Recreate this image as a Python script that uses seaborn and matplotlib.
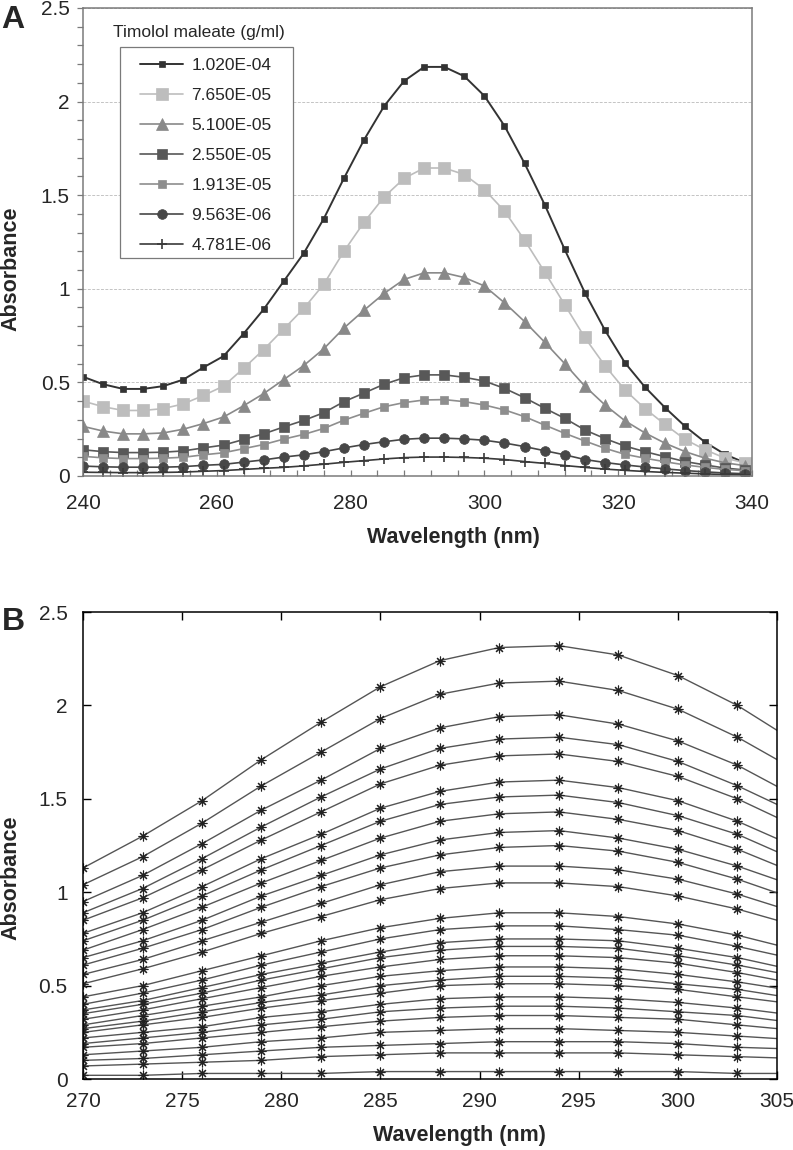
import matplotlib
matplotlib.use("Agg")
import matplotlib.pyplot as plt
from matplotlib.patches import Rectangle
from matplotlib.ticker import MultipleLocator, FuncFormatter
import seaborn as sns

# ---- Panel A: spectra of timolol maleate standards ----
wavelength_a = [240, 243, 246, 249, 252, 255, 258, 261, 264, 267,
                270, 273, 276, 279, 282, 285, 288, 291, 294, 297,
                300, 303, 306, 309, 312, 315, 318, 321, 324, 327,
                330, 333, 336, 339]

conc_labels = ["1.020E-04", "7.650E-05", "5.100E-05", "2.550E-05",
               "1.913E-05", "9.563E-06", "4.781E-06"]

abs_1020e4 = [0.53, 0.49, 0.465, 0.465, 0.48, 0.515, 0.58, 0.64, 0.76, 0.89,
              1.04, 1.19, 1.375, 1.59, 1.795, 1.975, 2.11, 2.185, 2.185, 2.135,
              2.03, 1.87, 1.67, 1.45, 1.21, 0.98, 0.78, 0.605, 0.475, 0.365,
              0.265, 0.18, 0.115, 0.07]
abs_7650e5 = [0.40, 0.37, 0.35, 0.35, 0.36, 0.385, 0.43, 0.48, 0.575, 0.675,
              0.785, 0.895, 1.025, 1.20, 1.355, 1.49, 1.59, 1.645, 1.645, 1.61,
              1.53, 1.415, 1.26, 1.09, 0.915, 0.74, 0.59, 0.46, 0.36, 0.275,
              0.195, 0.14, 0.095, 0.07]
abs_5100e5 = [0.265, 0.24, 0.225, 0.225, 0.23, 0.25, 0.28, 0.315, 0.375, 0.44,
              0.515, 0.59, 0.68, 0.79, 0.885, 0.975, 1.05, 1.085, 1.085, 1.06,
              1.015, 0.925, 0.825, 0.715, 0.60, 0.48, 0.38, 0.295, 0.23, 0.175,
              0.13, 0.095, 0.07, 0.055]
abs_2550e5 = [0.14, 0.13, 0.125, 0.125, 0.127, 0.134, 0.15, 0.165, 0.195, 0.225,
              0.262, 0.297, 0.338, 0.397, 0.443, 0.49, 0.525, 0.54, 0.54, 0.527,
              0.507, 0.468, 0.418, 0.362, 0.308, 0.246, 0.20, 0.16, 0.13, 0.103,
              0.077, 0.059, 0.042, 0.032]
abs_1913e5 = [0.105, 0.097, 0.093, 0.093, 0.095, 0.10, 0.113, 0.124, 0.146, 0.168,
              0.197, 0.222, 0.254, 0.298, 0.335, 0.37, 0.392, 0.406, 0.408, 0.397,
              0.379, 0.353, 0.317, 0.272, 0.228, 0.187, 0.148, 0.116, 0.095, 0.076,
              0.059, 0.046, 0.035, 0.028]
abs_9563e6 = [0.053, 0.049, 0.047, 0.047, 0.047, 0.05, 0.057, 0.062, 0.074, 0.086,
              0.101, 0.113, 0.13, 0.15, 0.168, 0.183, 0.196, 0.202, 0.202, 0.198,
              0.191, 0.176, 0.157, 0.135, 0.113, 0.088, 0.072, 0.059, 0.048, 0.038,
              0.029, 0.022, 0.016, 0.012]
abs_4781e6 = [0.02, 0.019, 0.018, 0.018, 0.019, 0.021, 0.025, 0.029, 0.035, 0.041,
              0.046, 0.054, 0.063, 0.073, 0.082, 0.091, 0.098, 0.101, 0.101, 0.099,
              0.095, 0.088, 0.077, 0.067, 0.056, 0.046, 0.037, 0.03, 0.024, 0.019,
              0.015, 0.011, 0.008, 0.006]

# ---- Panel B: zoom 270-305 nm of the calibration set ----
wavelength_b = [270, 273, 276, 279, 282, 285, 288, 291, 294, 297, 300, 303, 306]

spectra_high = [
    [1.13, 1.30, 1.49, 1.71, 1.91, 2.10, 2.24, 2.31, 2.32, 2.27, 2.16, 2.00, 1.80],
    [1.04, 1.19, 1.37, 1.57, 1.75, 1.93, 2.06, 2.12, 2.13, 2.08, 1.98, 1.83, 1.65],
    [0.95, 1.09, 1.26, 1.44, 1.60, 1.77, 1.88, 1.94, 1.95, 1.90, 1.81, 1.68, 1.51],
    [0.89, 1.02, 1.18, 1.35, 1.51, 1.66, 1.77, 1.82, 1.83, 1.79, 1.70, 1.57, 1.42],
    [0.85, 0.97, 1.12, 1.28, 1.43, 1.58, 1.68, 1.73, 1.74, 1.70, 1.62, 1.50, 1.35],
    [0.78, 0.89, 1.03, 1.18, 1.31, 1.45, 1.54, 1.59, 1.60, 1.56, 1.49, 1.38, 1.24],
    [0.74, 0.85, 0.98, 1.12, 1.25, 1.38, 1.47, 1.51, 1.52, 1.48, 1.41, 1.31, 1.17],
    [0.69, 0.80, 0.92, 1.05, 1.17, 1.29, 1.38, 1.42, 1.43, 1.39, 1.33, 1.23, 1.10],
    [0.65, 0.74, 0.85, 0.98, 1.09, 1.20, 1.28, 1.32, 1.33, 1.29, 1.23, 1.14, 1.03],
    [0.61, 0.70, 0.80, 0.92, 1.03, 1.13, 1.20, 1.24, 1.25, 1.22, 1.16, 1.07, 0.96],
    [0.56, 0.64, 0.74, 0.84, 0.94, 1.04, 1.11, 1.14, 1.14, 1.12, 1.07, 0.99, 0.89],
    [0.51, 0.59, 0.68, 0.78, 0.87, 0.96, 1.02, 1.05, 1.05, 1.03, 0.98, 0.91, 0.82],
]
spectra_low = [
    [0.44, 0.50, 0.58, 0.66, 0.74, 0.81, 0.86, 0.89, 0.89, 0.87, 0.83, 0.77, 0.69],
    [0.40, 0.46, 0.53, 0.61, 0.68, 0.75, 0.80, 0.82, 0.82, 0.80, 0.77, 0.71, 0.64],
    [0.37, 0.42, 0.49, 0.56, 0.62, 0.68, 0.73, 0.75, 0.75, 0.74, 0.70, 0.65, 0.58],
    [0.35, 0.40, 0.46, 0.53, 0.59, 0.65, 0.69, 0.71, 0.71, 0.70, 0.66, 0.61, 0.55],
    [0.32, 0.37, 0.43, 0.49, 0.55, 0.60, 0.64, 0.66, 0.66, 0.65, 0.62, 0.57, 0.51],
    [0.29, 0.34, 0.39, 0.44, 0.50, 0.55, 0.58, 0.60, 0.60, 0.59, 0.56, 0.52, 0.47],
    [0.27, 0.31, 0.36, 0.41, 0.45, 0.50, 0.53, 0.55, 0.55, 0.54, 0.51, 0.48, 0.43],
    [0.25, 0.29, 0.33, 0.38, 0.42, 0.46, 0.50, 0.51, 0.51, 0.50, 0.48, 0.44, 0.40],
    [0.22, 0.25, 0.28, 0.33, 0.36, 0.40, 0.43, 0.44, 0.44, 0.43, 0.41, 0.38, 0.34],
    [0.19, 0.22, 0.25, 0.29, 0.32, 0.36, 0.38, 0.39, 0.39, 0.38, 0.36, 0.34, 0.30],
    [0.17, 0.19, 0.22, 0.25, 0.28, 0.31, 0.33, 0.34, 0.34, 0.33, 0.32, 0.29, 0.26],
    [0.13, 0.15, 0.17, 0.20, 0.22, 0.25, 0.26, 0.27, 0.27, 0.26, 0.25, 0.23, 0.21],
    [0.10, 0.11, 0.13, 0.15, 0.17, 0.18, 0.19, 0.20, 0.20, 0.20, 0.19, 0.17, 0.16],
    [0.07, 0.08, 0.09, 0.10, 0.12, 0.13, 0.14, 0.14, 0.14, 0.14, 0.13, 0.12, 0.11],
    [0.02, 0.02, 0.03, 0.03, 0.03, 0.04, 0.04, 0.04, 0.04, 0.04, 0.04, 0.03, 0.03],
]

sns.set_style("ticks")
plt.rcParams["font.family"] = ["Liberation Sans", "DejaVu Sans"]

fig = plt.figure(figsize=(7.93, 11.5), dpi=100)
ax_a = fig.add_axes([0.1047, 0.5861, 0.8436, 0.407])
ax_b = fig.add_axes([0.1047, 0.0617, 0.8752, 0.4061])

plain_fmt = FuncFormatter(lambda v, p: f"{v:g}")

# (color, marker, markersize, linewidth)
styles_a = [
    ("#333333", "s", 5.0, 1.4),
    ("#bdbdbd", "s", 8.0, 1.2),
    ("#898989", "^", 8.0, 1.2),
    ("#585858", "s", 6.5, 1.2),
    ("#8e8e8e", "s", 6.0, 1.2),
    ("#474747", "o", 7.0, 1.2),
    ("#3a3a3a", "+", 7.0, 1.2),
]
series_a = [abs_1020e4, abs_7650e5, abs_5100e5, abs_2550e5,
            abs_1913e5, abs_9563e6, abs_4781e6]

for lbl, vals, (c, m, ms, lw) in zip(conc_labels, series_a, styles_a):
    sns.lineplot(x=wavelength_a, y=vals, ax=ax_a, color=c, marker=m,
                 markersize=ms, markeredgecolor=c, markerfacecolor=c,
                 markeredgewidth=1.2 if m == "+" else 0.5,
                 linewidth=lw, label=lbl)

ax_a.set_xlim(240, 340)
ax_a.set_ylim(0, 2.5)
ax_a.xaxis.set_major_locator(MultipleLocator(20))
ax_a.xaxis.set_minor_locator(MultipleLocator(4))
ax_a.yaxis.set_major_locator(MultipleLocator(0.5))
ax_a.yaxis.set_minor_locator(MultipleLocator(0.1))
ax_a.yaxis.set_major_formatter(plain_fmt)
ax_a.yaxis.grid(True, which="major", color="#c4c4c4",
                linestyle=(0, (3, 1.5)), linewidth=0.7)
ax_a.set_axisbelow(True)
for sp in ax_a.spines.values():
    sp.set_visible(True)
    sp.set_color("#7a7a7a")
    sp.set_linewidth(1.1)
ax_a.tick_params(axis="y", which="both", direction="out", length=4.5,
                 width=0.9, color="#7a7a7a", labelsize=15, pad=5)
ax_a.tick_params(axis="x", which="both", direction="in", length=4.5,
                 width=0.9, color="#7a7a7a", labelsize=15, pad=13)

ax_a.set_xlabel("Wavelength (nm)", fontsize=15.5, fontweight="bold")
ax_a.set_ylabel("Absorbance", fontsize=15.5, fontweight="bold")
ax_a.xaxis.set_label_coords(0.554, -0.108)
ax_a.yaxis.set_label_coords(-0.092, 0.442)

# legend box drawn separately so it can sit exactly where Excel put it
ax_a.add_patch(Rectangle((0.0553, 0.4658), 0.2586, 0.4509,
                         transform=ax_a.transAxes, facecolor="white",
                         edgecolor="#7a7a7a", linewidth=0.9, zorder=4))
leg = ax_a.legend(loc="upper left", bbox_to_anchor=(0.0852, 0.894),
                  borderaxespad=0, borderpad=0, frameon=False, fontsize=12.5,
                  handlelength=2.5, handletextpad=0.45, labelspacing=0.86)
leg.set_zorder(5)
ax_a.text(0.173, 0.947, "Timolol maleate (g/ml)", transform=ax_a.transAxes,
          ha="center", va="center", fontsize=12.5)

# Panel B
for vals in spectra_high + spectra_low:
    sns.lineplot(x=wavelength_b, y=vals, ax=ax_b, color="#555555",
                 linewidth=1.0, marker=(8, 2, 0), markersize=7,
                 markeredgecolor="#222222", markeredgewidth=0.8,
                 legend=False)

ax_b.set_xlim(270, 305)
ax_b.set_ylim(0, 2.5)
ax_b.xaxis.set_major_locator(MultipleLocator(5))
ax_b.yaxis.set_major_locator(MultipleLocator(0.5))
ax_b.yaxis.set_major_formatter(plain_fmt)
for sp in ax_b.spines.values():
    sp.set_visible(True)
    sp.set_color("black")
    sp.set_linewidth(1.1)
ax_b.tick_params(axis="both", which="major", direction="in", length=6,
                 width=1, color="black", top=True, right=True, labelsize=15)
ax_b.tick_params(axis="y", pad=11)
ax_b.tick_params(axis="x", pad=9)
ax_b.set_xlabel("Wavelength (nm)", fontsize=15.5, fontweight="bold")
ax_b.set_ylabel("Absorbance", fontsize=15.5, fontweight="bold")
ax_b.xaxis.set_label_coords(0.543, -0.098)
ax_b.yaxis.set_label_coords(-0.089, 0.43)

fig.text(0.002, 1 - 5 / 1150, "A", ha="left", va="top",
         fontsize=23, fontweight="bold")
fig.text(0.002, 1 - 607 / 1150, "B", ha="left", va="top",
         fontsize=23, fontweight="bold")

fig.savefig("out.png", dpi=100)
